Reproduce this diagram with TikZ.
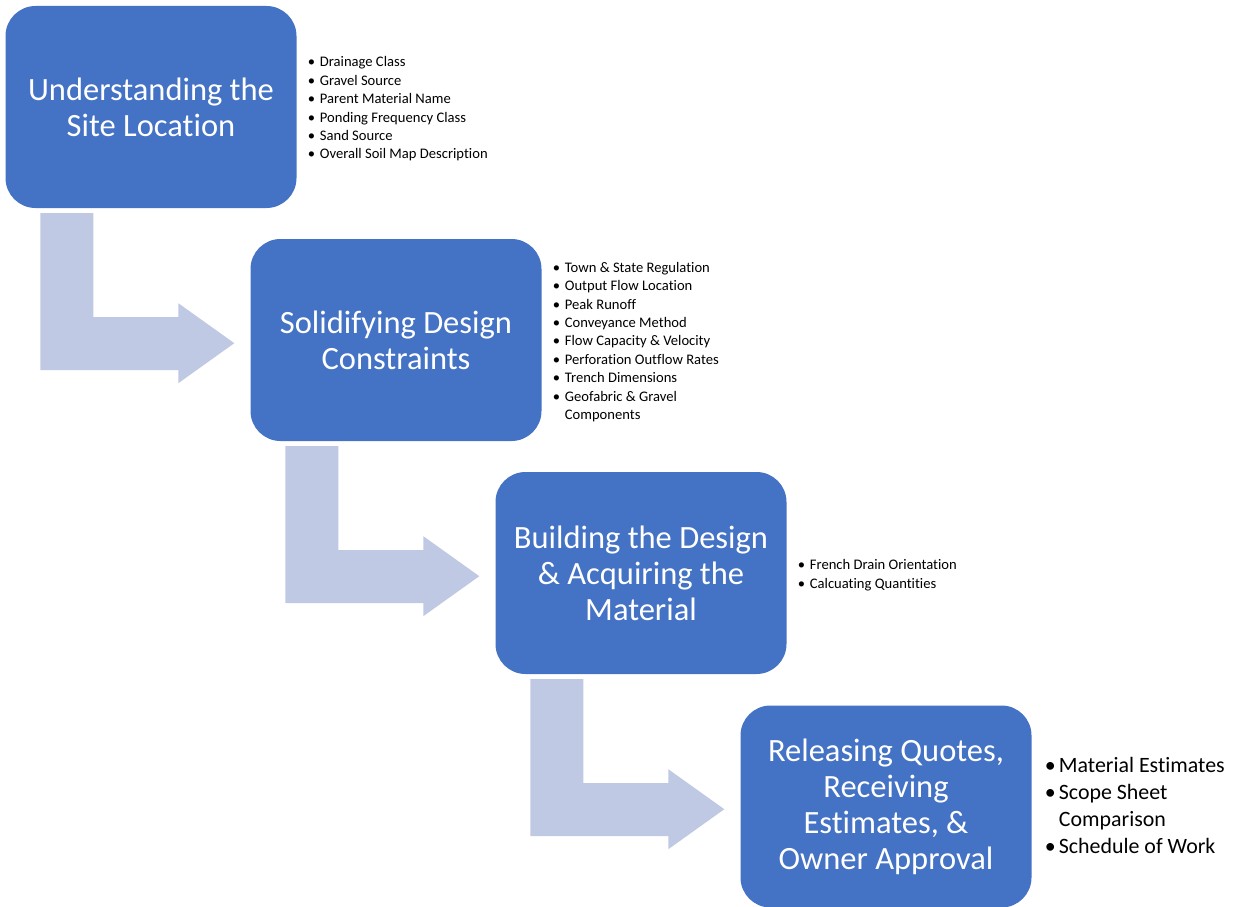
\documentclass[tikz,border=0pt]{standalone}
\usepackage{fontspec}
\setmainfont{Carlito}[Ligatures=NoCommon]
\usetikzlibrary{calc}
\definecolor{boxblue}{HTML}{4472C4}
\definecolor{arrowblue}{HTML}{BFC9E3}
\tikzset{
  box/.style={fill=boxblue, draw=none, rounded corners=30pt, minimum width=291pt, minimum height=202pt,
    inner sep=0pt, text=white, align=center, font=\fontsize{32.5}{36}\selectfont},
  smalllist/.style={anchor=west, inner sep=0pt, align=left, font=\fontsize{14.6}{18.4}\selectfont, xshift=11pt, yshift=-2pt},
  biglist/.style={anchor=west, inner sep=0pt, align=left, font=\fontsize{21.9}{27}\selectfont, xshift=13pt, yshift=1pt},
  bentarrow/.style={fill=arrowblue, draw=none}
}
\newcommand{\smbul}{\makebox[12pt][l]{\textbullet}}
\newcommand{\bgbul}{\makebox[14pt][l]{\textbullet}}
\begin{document}
\begin{tikzpicture}[x=1pt,y=-1pt]
\useasboundingbox (0,0) rectangle (1234,907);
\node[box] (b1) at (151,107) {Understanding the\\Site Location};
\node[box] (b2) at (396,340) {Solidifying Design\\Constraints};
\node[box] (b3) at (641,573) {Building the Design\\\& Acquiring the\\Material};
\node[box] (b4) at (886,806.5) {Releasing Quotes,\\Receiving\\Estimates, \&\\Owner Approval};
\foreach \a in {b1,b2,b3}{
  \fill[bentarrow] ($(\a.south west)+(35,5)$) -- ($(\a.south west)+(88,5)$) -- ($(\a.south west)+(88,109)$)
    -- ($(\a.south west)+(173,109)$) -- ($(\a.south west)+(173,95)$) -- ($(\a.south west)+(229,135)$)
    -- ($(\a.south west)+(173,175)$) -- ($(\a.south west)+(173,162)$) -- ($(\a.south west)+(35,162)$) -- cycle;
}
\node[smalllist] (l1) at (b1.east) {\smbul Drainage Class\\\smbul Gravel Source\\\smbul Parent Material Name\\\smbul Ponding Frequency Class\\\smbul Sand Source\\\smbul Overall Soil Map Description};
\node[smalllist] (l2) at (b2.east) {\smbul Town \& State Regulation\\\smbul Output Flow Location\\\smbul Peak Runoff\\\smbul Conveyance Method\\\smbul Flow Capacity \& Velocity\\\smbul Perforation Outflow Rates\\\smbul Trench Dimensions\\\smbul Geofabric \& Gravel\\\hspace*{12pt}Components};
\node[smalllist] (l3) at (b3.east) {\smbul French Drain Orientation\\\smbul Calcuating Quantities};
\node[biglist] (l4) at (b4.east) {\bgbul Material Estimates\\\bgbul Scope Sheet\\\hspace*{14pt}Comparison\\\bgbul Schedule of Work};
\end{tikzpicture}
\end{document}
